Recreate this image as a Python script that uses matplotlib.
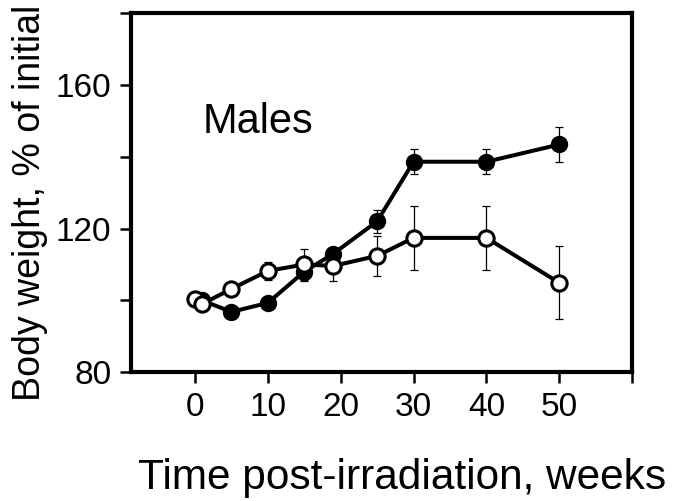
import matplotlib
matplotlib.use("Agg")
import matplotlib.pyplot as plt

plt.rcParams["font.family"] = ["Liberation Sans", "DejaVu Sans"]

# filled circles
weeks_filled = [1, 5, 10, 15, 19, 25, 30, 40, 50]
weight_filled = [100, 96.8, 99.3, 108, 113, 122, 138.6, 138.6, 143.4]
err_filled = [0, 0, 0.8, 2.7, 0, 3.1, 3.5, 3.5, 5.0]

# open circles
weeks_open = [0, 1, 5, 10, 15, 19, 25, 30, 40, 50]
weight_open = [100.5, 99, 103.2, 108.2, 110, 109.6, 112.4, 117.4, 117.4, 104.9]
err_open = [0, 0, 0, 2.5, 4.4, 4.2, 5.6, 8.9, 8.9, 10.2]

xticks = [0, 10, 20, 30, 40, 50, 60]
xticklabels = ["0", "10", "20", "30", "40", "50", ""]
yticks = [80, 100, 120, 140, 160, 180]
yticklabels = ["80", "", "120", "", "160", ""]

fig = plt.figure(figsize=(6.74, 5.01), dpi=100)
ax = fig.add_axes([0.194, 0.257, 0.744, 0.717])

ax.errorbar(weeks_filled, weight_filled, yerr=err_filled, fmt="none",
            ecolor="black", elinewidth=0.9, capsize=3.2, capthick=0.9, zorder=1)
ax.plot(weeks_filled, weight_filled, "-o", color="black", lw=2.9,
        markersize=11, markerfacecolor="black", markeredgecolor="black",
        markeredgewidth=1.5, zorder=2)

ax.errorbar(weeks_open, weight_open, yerr=err_open, fmt="none",
            ecolor="black", elinewidth=0.9, capsize=3.2, capthick=0.9, zorder=3)
ax.plot(weeks_open, weight_open, "-o", color="black", lw=2.9,
        markersize=11, markerfacecolor="white", markeredgecolor="black",
        markeredgewidth=2.2, zorder=4)

ax.text(1.1, 146.5, "Males", fontsize=30, va="baseline", ha="left")

ax.set_xlim(-8.8, 60)
ax.set_ylim(80, 180)
ax.set_xticks(xticks)
ax.set_xticklabels(xticklabels)
ax.set_yticks(yticks)
ax.set_yticklabels(yticklabels)
ax.tick_params(axis="both", direction="out", length=8, width=1.8,
               labelsize=24, pad=6)
for sp in ax.spines.values():
    sp.set_linewidth(3)

fig.text(402 / 674, 1 - 489 / 501, "Time post-irradiation, weeks",
         fontsize=30.5, ha="center", va="baseline")
fig.text(40 / 674, 1 - 203 / 501, "Body weight, % of initial",
         fontsize=27, rotation=90, rotation_mode="anchor",
         ha="center", va="baseline")

fig.savefig("out.png", dpi=100)
